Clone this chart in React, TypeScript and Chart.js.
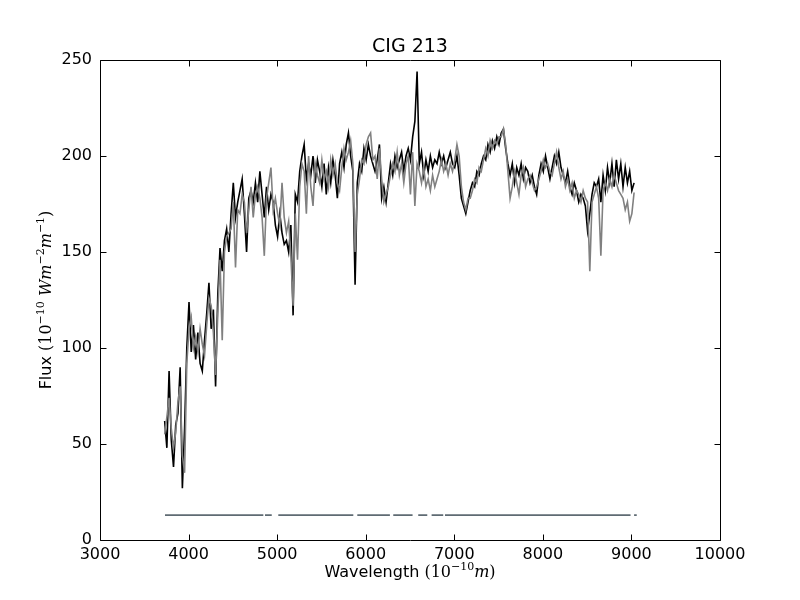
import React, { useEffect, useRef } from "react";
import { Chart, registerables } from "chart.js";

Chart.register(...registerables);

// ---------------- data ----------------
const TITLE = "CIG 213";
const WAVELENGTH_START = 3730; // Angstrom, first sample of the spectrum grid
const WAVELENGTH_STEP = 25; // Angstrom between samples

// observed spectrum (black)
const FLUX_OBSERVED = [
  62, 48, 88, 52, 38, 60, 66, 90, 27, 58,
  100, 124, 98, 112, 94, 108, 92, 88, 104, 118,
  134, 110, 120, 80, 128, 152, 140, 156, 162, 150,
  170, 186, 168, 176, 182, 188, 170, 150, 178, 182,
  176, 186, 176, 192, 180, 168, 184, 172, 180, 176,
  164, 158, 170, 160, 154, 156, 150, 164, 117, 180,
  176, 192, 200, 206, 188, 196, 190, 200, 186, 198,
  192, 184, 196, 180, 194, 186, 198, 190, 178, 196,
  202, 194, 206, 212, 200, 192, 133, 186, 196, 192,
  204, 198, 206, 200, 196, 192, 198, 206, 178, 184,
  176, 186, 196, 190, 200, 194, 198, 202, 192, 200,
  204, 198, 210, 218, 244, 196, 202, 190, 198, 192,
  200, 194, 198, 196, 202, 196, 200, 194, 198, 202,
  196, 194, 200, 190, 178, 174, 170, 176, 182, 186,
  184, 192, 190, 196, 200, 198, 206, 202, 208, 204,
  210, 206, 212, 214, 204, 196, 190, 196, 186, 194,
  190, 196, 188, 194, 192, 186, 190, 184, 180, 190,
  196, 192, 200, 194, 188, 194, 200, 196, 202, 194,
  190, 186, 192, 184, 180, 186, 182, 176, 180, 178,
  174, 161, 170, 180, 186, 184, 188, 176, 190, 182,
  194, 186, 196, 184, 198, 188, 196, 184, 194, 186,
  192, 182, 186,
];

// model spectrum (grey)
const FLUX_MODEL = [
  55, 64, 74, 58, 48, 56, 72, 80, 44, 35,
  92, 110, 116, 100, 106, 98, 110, 102, 96, 112,
  126, 122, 108, 86, 118, 146, 104, 150, 158, 160,
  162, 176, 142, 172, 170, 180, 176, 160, 172, 184,
  168, 180, 184, 178, 168, 148, 178, 186, 194, 172,
  178, 170, 164, 186, 168, 160, 166, 148, 122, 170,
  146, 184, 196, 192, 170, 200, 184, 174, 196, 190,
  186, 198, 188, 192, 184, 198, 190, 196, 186, 182,
  194, 204, 198, 202, 208, 196, 150, 180, 188, 198,
  196, 206, 210, 212, 198, 200, 188, 204, 188, 176,
  180, 184, 190, 196, 192, 202, 190, 196, 186, 196,
  200, 180, 202, 174, 196, 192, 186, 194, 184, 188,
  182, 190, 184, 188, 192, 198, 192, 196, 190, 196,
  192, 198, 206, 200, 184, 176, 172, 178, 178, 182,
  188, 186, 194, 192, 198, 204, 200, 208, 204, 208,
  206, 210, 210, 214, 206, 192, 178, 184, 192, 186,
  180, 190, 194, 184, 188, 190, 186, 182, 184, 188,
  192, 198, 194, 196, 192, 190, 196, 202, 194, 188,
  192, 184, 188, 182, 186, 178, 182, 180, 176, 182,
  178, 176, 140, 176, 180, 184, 178, 148, 182, 186,
  182, 188, 184, 190, 186, 182, 180, 178, 172, 176,
  166, 170, 181,
];

// good-pixel mask segments drawn near the bottom
const MASK_START = [3734, 4863, 5013, 5905, 6311, 6593, 6744, 6895, 9030];
const MASK_END = [4844, 4939, 5860, 6273, 6529, 6695, 6875, 8990, 9060];
const MASK_LEVEL = 13;

const X_TICKS = [3000, 4000, 5000, 6000, 7000, 8000, 9000, 10000];
const Y_TICKS = [0, 50, 100, 150, 200, 250];

// ---------------- helpers ----------------
type Seg = { t: string; font: string; dy?: number };

const SANS = '"DejaVu Sans"';
const SERIF = '"DejaVu Serif"';

function richWidth(ctx: CanvasRenderingContext2D, segs: Seg[]) {
  let w = 0;
  for (const s of segs) {
    ctx.font = s.font;
    w += ctx.measureText(s.t).width;
  }
  return w;
}

function drawRich(ctx: CanvasRenderingContext2D, segs: Seg[], cx: number, baseline: number) {
  const w = richWidth(ctx, segs);
  let x = cx - w / 2;
  ctx.textAlign = "left";
  ctx.textBaseline = "alphabetic";
  for (const s of segs) {
    ctx.font = s.font;
    ctx.fillText(s.t, x, baseline - (s.dy || 0));
    x += ctx.measureText(s.t).width;
  }
}

const X_TITLE: Seg[] = [
  { t: "Wavelength ", font: `16px ${SANS}` },
  { t: "(10", font: `16px ${SERIF}` },
  { t: "\u221210", font: `11px ${SERIF}`, dy: 7 },
  { t: "m", font: `italic 16px ${SERIF}` },
  { t: ")", font: `16px ${SERIF}` },
];

const Y_TITLE: Seg[] = [
  { t: "Flux ", font: `16px ${SANS}` },
  { t: "(10", font: `16px ${SERIF}` },
  { t: "\u221210", font: `11px ${SERIF}`, dy: 7 },
  { t: " W", font: `italic 16px ${SERIF}` },
  { t: "m", font: `italic 16px ${SERIF}` },
  { t: "\u22122", font: `11px ${SERIF}`, dy: 7 },
  { t: "m", font: `italic 16px ${SERIF}` },
  { t: "\u22121", font: `11px ${SERIF}`, dy: 7 },
  { t: ")", font: `16px ${SERIF}` },
];

const decorPlugin = {
  id: "decor",
  afterDraw(chart: any) {
    const { ctx, chartArea: a, scales } = chart;
    ctx.save();
    // frame
    ctx.strokeStyle = "#000";
    ctx.lineWidth = 1;
    const L = Math.round(a.left) + 0.5;
    const R = Math.round(a.right) + 0.5;
    const T = Math.round(a.top) + 0.5;
    const B = Math.round(a.bottom) + 0.5;
    ctx.beginPath();
    ctx.rect(L, T, R - L, B - T);
    ctx.stroke();
    // inward ticks on all four sides
    const tl = 6;
    ctx.beginPath();
    for (const v of X_TICKS) {
      const px = Math.round(scales.x.getPixelForValue(v)) + 0.5;
      ctx.moveTo(px, B);
      ctx.lineTo(px, B - tl);
      ctx.moveTo(px, T);
      ctx.lineTo(px, T + tl);
    }
    for (const v of Y_TICKS) {
      const py = Math.round(scales.y.getPixelForValue(v)) + 0.5;
      ctx.moveTo(L, py);
      ctx.lineTo(L + tl, py);
      ctx.moveTo(R, py);
      ctx.lineTo(R - tl, py);
    }
    ctx.stroke();
    // title
    ctx.fillStyle = "#000";
    ctx.font = `19px ${SANS}`;
    ctx.textAlign = "center";
    ctx.textBaseline = "alphabetic";
    ctx.fillText(TITLE, (a.left + a.right) / 2, 52);
    // axis titles
    drawRich(ctx, X_TITLE, (a.left + a.right) / 2, 577);
    ctx.save();
    ctx.translate(51, (a.top + a.bottom) / 2);
    ctx.rotate(-Math.PI / 2);
    drawRich(ctx, Y_TITLE, 0, 0);
    ctx.restore();
    ctx.restore();
  },
};

export default function App() {
  const ref = useRef<HTMLCanvasElement | null>(null);

  useEffect(() => {
    if (!ref.current) return;
    const observed = FLUX_OBSERVED.map((y, i) => ({ x: WAVELENGTH_START + i * WAVELENGTH_STEP, y }));
    const model = FLUX_MODEL.map((y, i) => ({ x: WAVELENGTH_START + i * WAVELENGTH_STEP, y }));
    const mask: { x: number; y: number | null }[] = [];
    MASK_START.forEach((s, i) => {
      mask.push({ x: s, y: MASK_LEVEL });
      mask.push({ x: MASK_END[i], y: MASK_LEVEL });
      mask.push({ x: MASK_END[i] + 1, y: null });
    });

    const tickFont = { family: "DejaVu Sans", size: 16 };
    const chart = new Chart(ref.current, {
      type: "line",
      data: {
        datasets: [
          {
            data: model,
            borderColor: "#808080",
            borderWidth: 1.6,
            pointRadius: 0,
            tension: 0,
            order: 0,
          },
          {
            data: observed,
            borderColor: "#000000",
            borderWidth: 1.6,
            pointRadius: 0,
            tension: 0,
            order: 1,
          },
          {
            data: mask as any,
            borderColor: "#5f6b73",
            borderWidth: 1.8,
            pointRadius: 0,
            tension: 0,
            spanGaps: false,
            order: 2,
          },
        ],
      },
      options: {
        responsive: false,
        animation: false,
        events: [],
        layout: { padding: { top: 60, right: 80, left: 0, bottom: 0 } },
        plugins: {
          legend: { display: false },
          tooltip: { enabled: false },
          title: { display: false },
        },
        scales: {
          x: {
            type: "linear",
            min: 3000,
            max: 10000,
            grid: { display: false, drawTicks: false },
            border: { display: false },
            afterBuildTicks: (s: any) => {
              s.ticks = X_TICKS.map((v) => ({ value: v }));
            },
            afterFit: (s: any) => {
              s.height = 60;
            },
            ticks: {
              color: "#000",
              font: tickFont,
              padding: 5,
              maxRotation: 0,
              autoSkip: false,
              callback: (v: any) => String(v),
            },
          },
          y: {
            type: "linear",
            min: 0,
            max: 250,
            grid: { display: false, drawTicks: false },
            border: { display: false },
            afterBuildTicks: (s: any) => {
              s.ticks = Y_TICKS.map((v) => ({ value: v }));
            },
            afterFit: (s: any) => {
              s.width = 100;
            },
            ticks: {
              color: "#000",
              font: tickFont,
              padding: 8,
              autoSkip: false,
              callback: (v: any) => String(v),
            },
          },
        },
      },
      plugins: [decorPlugin],
    });
    return () => chart.destroy();
  }, []);

  return (
    <div style={{ position: "absolute", left: 0, top: 0, width: 800, height: 600, background: "#fff" }}>
      <canvas ref={ref} width={800} height={600} style={{ display: "block" }} />
    </div>
  );
}
